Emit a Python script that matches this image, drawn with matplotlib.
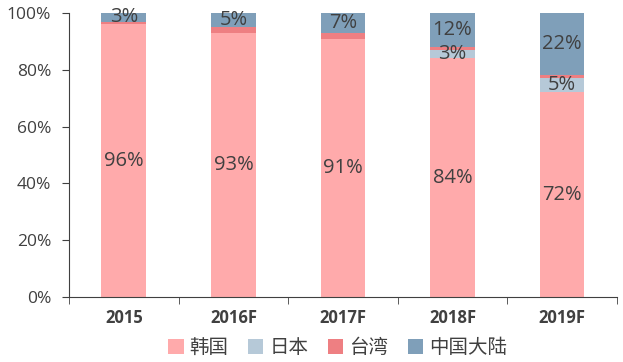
import numpy as np
import matplotlib.pyplot as plt

plt.rcParams['font.family'] = ['Open Sans', 'Noto Sans CJK SC', 'DejaVu Sans']

years = ['2015', '2016F', '2017F', '2018F', '2019F']
korea = [96, 93, 91, 84, 72]
japan = [0, 0, 0, 3, 5]
taiwan = [1, 2, 2, 1, 1]
china = [3, 5, 7, 12, 22]

series = [
    ('韩国', korea, '#ffaaab', True),
    ('日本', japan, '#b6c9d8', True),
    ('台湾', taiwan, '#ee7f82', False),
    ('中国大陆', china, '#7f9fb9', True),
]

fig = plt.figure(figsize=(6.23, 3.62), dpi=100)
ax = fig.add_axes([0.111, 0.18, 0.879, 0.784])

x = np.arange(len(years))
bottom = np.zeros(len(years))
txt = '#404040'
for name, vals, color, show in series:
    vals = np.array(vals, dtype=float)
    ax.bar(x, vals, 0.41, bottom=bottom, color=color, label=name)
    if show:
        for xi, b, v in zip(x, bottom, vals):
            if v > 0:
                ax.text(xi, b + v / 2, f'{int(v)}%', ha='center', va='center',
                        fontsize=14.5, color=txt)
    bottom += vals

ax.set_xlim(-0.5, len(years) - 0.5)
ax.set_ylim(0, 100)
ax.set_yticks(range(0, 101, 20))
ax.set_yticklabels([f'{v}%' for v in range(0, 101, 20)], fontsize=12.5, color=txt)
ax.set_xticks(x)
ax.set_xticklabels(years, fontsize=12, fontweight='bold', color=txt)
ax.set_xticks(np.arange(-0.5, len(years), 1), minor=True)
ax.tick_params(axis='x', which='major', length=0, pad=9)
ax.tick_params(axis='x', which='minor', length=5, color='#404040')
ax.tick_params(axis='y', length=5, color='#404040', pad=8)

for s in ['top', 'right']:
    ax.spines[s].set_visible(False)
ax.spines['left'].set_color('#404040')
ax.spines['bottom'].set_color('#404040')

ax.legend(loc='center', bbox_to_anchor=(0.49, -0.18), ncol=4, frameon=False,
          fontsize=14, handlelength=0.8, handleheight=0.8, handletextpad=0.3,
          columnspacing=1.0, labelcolor=txt, borderpad=0)

fig.savefig('out.png', dpi=100)
